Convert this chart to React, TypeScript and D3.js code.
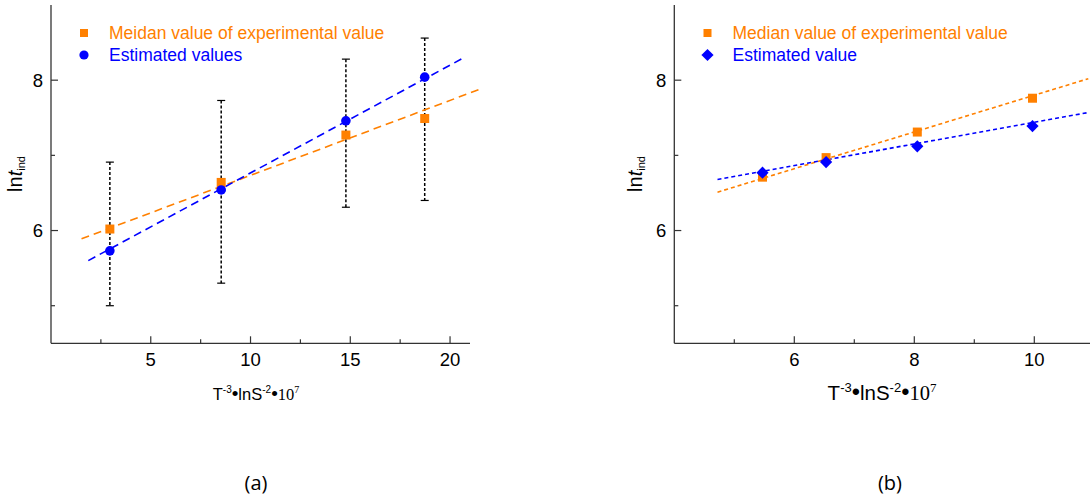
import React from "react";
import * as d3 from "d3";

// ---------- data ----------
// Panel (a)
const xA = [2.95, 8.53, 14.78, 18.73];
const medianA = [6.02, 6.64, 7.27, 7.49];
const estA = [5.73, 6.54, 7.46, 8.04];
const errTopA = [6.91, 7.73, 8.28, 8.56];
const errBotA = [5.0, 5.3, 6.31, 6.4];
// fit lines: [slope, intercept, xStart, xEnd]
const fitMedianA = [0.0997, 5.737, 1.53, 21.6];
const fitEstA = [0.1434, 5.332, 1.87, 20.7];
const xTicksA = [5, 10, 15, 20];
const xMinorA = [2.5, 7.5, 12.5, 17.5];

// Panel (b)
const xB = [5.47, 6.53, 8.05, 9.97];
const medianB = [6.71, 6.97, 7.31, 7.76];
const estB = [6.77, 6.91, 7.12, 7.39];
const fitMedianB = [0.2443, 5.357, 4.72, 10.9];
const fitEstB = [0.144, 6.0, 4.72, 10.9];
const xTicksB = [6, 8, 10];
const xMinorB = [5, 7, 9, 11];

const yTicks = [6, 8];
const yMinor = [5, 7];

const ORANGE = "#FF8000";
const BLUE = "#0000FF";
const AXIS = "#333333";
const SANS = "'Liberation Sans', Arial, sans-serif";
const SERIF = "'Liberation Serif', 'Times New Roman', serif";

type PanelProps = {
  x0: number;
  x1: number;
  xDomain: [number, number];
  axisEnd: number;
  xs: number[];
  median: number[];
  est: number[];
  errTop?: number[];
  errBot?: number[];
  fitMedian: number[];
  fitEst: number[];
  xTicks: number[];
  xMinor: number[];
  dash: string;
  estShape: "circle" | "diamond";
  legend1: string;
  legend2: string;
  legendX: number;
  yLabelX: number;
  xLabelX: number;
  xLabelSize: number;
  yLabelSize: number;
};

function Panel(p: PanelProps) {
  const top = 5;
  const bottom = 343.3;
  const x = d3.scaleLinear().domain(p.xDomain).range([p.x0, p.x1]);
  const y = d3.scaleLinear().domain([4.5, 9]).range([bottom, top]);
  const axisLeft = x(p.xDomain[0]);
  const line = d3
    .line<[number, number]>()
    .x((d) => x(d[0]))
    .y((d) => y(d[1]));
  const fitPts = (f: number[]): [number, number][] => [
    [f[2], f[0] * f[2] + f[1]],
    [f[3], f[0] * f[3] + f[1]],
  ];
  const diamond = d3.symbol().type(d3.symbolDiamond2).size(95)();
  const xl = p.xLabelSize;
  const sup = Math.round(xl * 0.62);
  return (
    <g>
      {/* axes */}
      <line x1={axisLeft} x2={axisLeft} y1={top} y2={bottom} stroke={AXIS} strokeWidth={1.3} />
      <line x1={axisLeft} x2={p.axisEnd} y1={bottom} y2={bottom} stroke={AXIS} strokeWidth={1.3} />
      {p.xTicks.map((t) => (
        <g key={"xt" + t}>
          <line x1={x(t)} x2={x(t)} y1={bottom} y2={bottom - 7} stroke={AXIS} strokeWidth={1.2} />
          <text x={x(t)} y={bottom + 23} textAnchor="middle" fontFamily={SANS} fontSize={18.5} fill="#000">
            {t}
          </text>
        </g>
      ))}
      {p.xMinor.map((t) => (
        <line key={"xm" + t} x1={x(t)} x2={x(t)} y1={bottom} y2={bottom - 4} stroke={AXIS} strokeWidth={1.2} />
      ))}
      {yTicks.map((t) => (
        <g key={"yt" + t}>
          <line x1={axisLeft} x2={axisLeft + 7} y1={y(t)} y2={y(t)} stroke={AXIS} strokeWidth={1.2} />
          <text x={axisLeft - 8} y={y(t)} dy="0.36em" textAnchor="end" fontFamily={SANS} fontSize={18.5} fill="#000">
            {t}
          </text>
        </g>
      ))}
      {yMinor.map((t) => (
        <line key={"ym" + t} x1={axisLeft} x2={axisLeft + 4} y1={y(t)} y2={y(t)} stroke={AXIS} strokeWidth={1.2} />
      ))}

      {/* error bars */}
      {p.errTop &&
        p.errBot &&
        p.xs.map((v, i) => (
          <g key={"eb" + i}>
            <line
              x1={x(v)}
              x2={x(v)}
              y1={y(p.errTop![i])}
              y2={y(p.errBot![i])}
              stroke="#000"
              strokeWidth={1.5}
              strokeDasharray="3,2"
            />
            <line x1={x(v) - 4} x2={x(v) + 4} y1={y(p.errTop![i])} y2={y(p.errTop![i])} stroke="#000" strokeWidth={1.2} />
            <line x1={x(v) - 4} x2={x(v) + 4} y1={y(p.errBot![i])} y2={y(p.errBot![i])} stroke="#000" strokeWidth={1.2} />
          </g>
        ))}

      {/* fit lines */}
      <path d={line(fitPts(p.fitMedian)) || ""} stroke={ORANGE} strokeWidth={1.6} fill="none" strokeDasharray={p.dash} />
      <path d={line(fitPts(p.fitEst)) || ""} stroke={BLUE} strokeWidth={1.6} fill="none" strokeDasharray={p.dash} />

      {/* points */}
      {p.xs.map((v, i) => (
        <rect key={"m" + i} x={x(v) - 4.5} y={y(p.median[i]) - 4.5} width={9} height={9} fill={ORANGE} />
      ))}
      {p.xs.map((v, i) =>
        p.estShape === "circle" ? (
          <circle key={"e" + i} cx={x(v)} cy={y(p.est[i])} r={4.8} fill={BLUE} />
        ) : (
          <path key={"e" + i} d={diamond || ""} transform={`translate(${x(v)},${y(p.est[i])})`} fill={BLUE} />
        )
      )}

      {/* legend */}
      <rect x={p.legendX - 4} y={33 - 4} width={8} height={8} fill={ORANGE} />
      <text x={p.legendX + 25} y={33} dy="0.36em" fontFamily={SANS} fontSize={17.5} fill={ORANGE}>
        {p.legend1}
      </text>
      {p.estShape === "circle" ? (
        <circle cx={p.legendX} cy={55} r={4.6} fill={BLUE} />
      ) : (
        <path d={diamond || ""} transform={`translate(${p.legendX},55)`} fill={BLUE} />
      )}
      <text x={p.legendX + 25} y={55} dy="0.36em" fontFamily={SANS} fontSize={17.5} fill={BLUE}>
        {p.legend2}
      </text>

      {/* y label */}
      <text
        transform={`translate(${p.yLabelX},174) rotate(-90)`}
        textAnchor="middle"
        fontFamily={SANS}
        fontSize={p.yLabelSize}
        fill="#000"
      >
        <tspan>ln</tspan>
        <tspan fontStyle="italic">t</tspan>
        <tspan fontSize={p.yLabelSize * 0.55} dy={3}>
          ind
        </tspan>
      </text>

      {/* x label */}
      <text x={p.xLabelX} y={400} textAnchor="middle" fontFamily={SANS} fontSize={xl} fill="#000">
        <tspan>T</tspan>
        <tspan fontSize={sup} dy={-xl * 0.4}>-3</tspan>
        <tspan dy={xl * 0.4} fontSize={xl * 1.15}>•</tspan>
        <tspan>lnS</tspan>
        <tspan fontSize={sup} dy={-xl * 0.4}>-2</tspan>
        <tspan dy={xl * 0.4} fontSize={xl * 1.15}>•</tspan>
        <tspan fontFamily={SERIF}>10</tspan>
        <tspan fontFamily={SERIF} fontSize={sup} dy={-xl * 0.4}>7</tspan>
      </text>
    </g>
  );
}

export default function App() {
  return (
    <div style={{ position: "absolute", left: 0, top: 0 }}>
      <svg width={1090} height={498} style={{ display: "block", background: "#fff" }}>
        <Panel
          x0={51}
          x1={470}
          xDomain={[0, 21]}
          axisEnd={470}
          xs={xA}
          median={medianA}
          est={estA}
          errTop={errTopA}
          errBot={errBotA}
          fitMedian={fitMedianA}
          fitEst={fitEstA}
          xTicks={xTicksA}
          xMinor={xMinorA}
          dash="8,5"
          estShape="circle"
          legend1="Meidan value of experimental value"
          legend2="Estimated values"
          legendX={84}
          yLabelX={21.5}
          xLabelX={256}
          xLabelSize={16.5}
          yLabelSize={20}
        />
        <Panel
          x0={674.3}
          x1={1154.3}
          xDomain={[4, 12]}
          axisEnd={1154.3}
          xs={xB}
          median={medianB}
          est={estB}
          fitMedian={fitMedianB}
          fitEst={fitEstB}
          xTicks={xTicksB}
          xMinor={xMinorB}
          dash="4,3"
          estShape="diamond"
          legend1="Median value of experimental value"
          legend2="Estimated value"
          legendX={707.5}
          yLabelX={642}
          xLabelX={882}
          xLabelSize={20.5}
          yLabelSize={20}
        />
        <text x={256} y={490} textAnchor="middle" fontFamily="'Open Sans', sans-serif" fontSize={20} fill="#000">
          (a)
        </text>
        <text x={890} y={490} textAnchor="middle" fontFamily="'Open Sans', sans-serif" fontSize={20} fill="#000">
          (b)
        </text>
      </svg>
    </div>
  );
}
